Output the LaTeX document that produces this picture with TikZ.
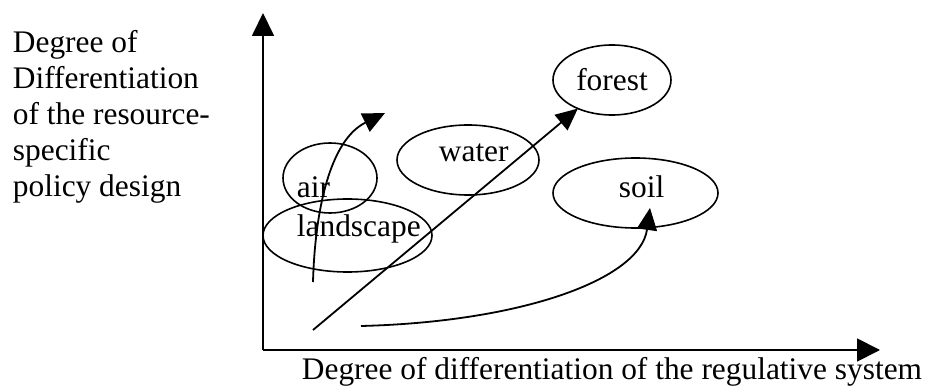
\documentclass[tikz,border=0pt]{standalone}
\usepackage{fontspec}
\setmainfont{Liberation Serif}
\usetikzlibrary{arrows.meta,shapes.geometric}

\begin{document}
\begin{tikzpicture}[x=1pt,y=-1pt,line width=1.8pt,
					ell/.style={draw, ellipse, line width=1.6pt, outer sep=0pt},
					arr/.style={-{Triangle[length=22pt,width=20pt]}}]
					\tikzstyle{every node}=[inner sep=0pt, font=\fontsize{31.4}{36}\selectfont]
					\useasboundingbox (0,0) rectangle (927,387);
					
					% axes
					\coordinate (o) at (263,350);
					\coordinate (ytip) at (263,13);
					\coordinate (xtip) at (880,350);
					\draw[-{Triangle[length=23pt,width=22pt]}] (o) -- (ytip);
					\draw[-{Triangle[length=23pt,width=23pt]}] (o) -- (xtip);
					
					\foreach \t [count=\i] in {Degree of, Differentiation, of the resource-, specific, policy design}
						\node[anchor=base west] (ylab\i) at (12,17+36*\i) {\t};
					\node[anchor=base east] (xlab) at (923,380) {Degree of differentiation of the regulative system};
					
					% resources
					\node[ell, minimum width=94pt, minimum height=70pt] (air) at (330,178) {};
					\node[ell, minimum width=169pt, minimum height=73pt] (landscape) at (347.5,235.5) {};
					\node[ell, minimum width=142pt, minimum height=70pt] (water) at (468,160) {};
					\node[ell, minimum width=118pt, minimum height=70pt] (forest) at (612,80) {forest};
					\node[ell, minimum width=165pt, minimum height=70pt] (soil) at (635.5,193) {};
					
					\node[anchor=base west] (airtext) at (296,198) {air};
					\node[anchor=base west] (landscapetext) at (296,237) {landscape};
					\node[anchor=base west] (watertext) at (438,162) {water};
					\node[anchor=base west] (soiltext) at (618,198) {soil};
					
					% developments
					\coordinate (s1) at (313,330);
					\draw[arr] (s1) -- (forest);
					
					\coordinate (s2) at (313,282);
					\coordinate (airtip) at (385,113);
					\draw[arr] (s2) .. controls (315,210) and (330,140) .. (airtip);
					
					\coordinate (s3) at (361,326);
					\coordinate (soiltip) at (650,208);
					\draw[arr] (s3) .. controls (520,322) and (640,280) .. (soiltip);
					
				\end{tikzpicture}
\end{document}
